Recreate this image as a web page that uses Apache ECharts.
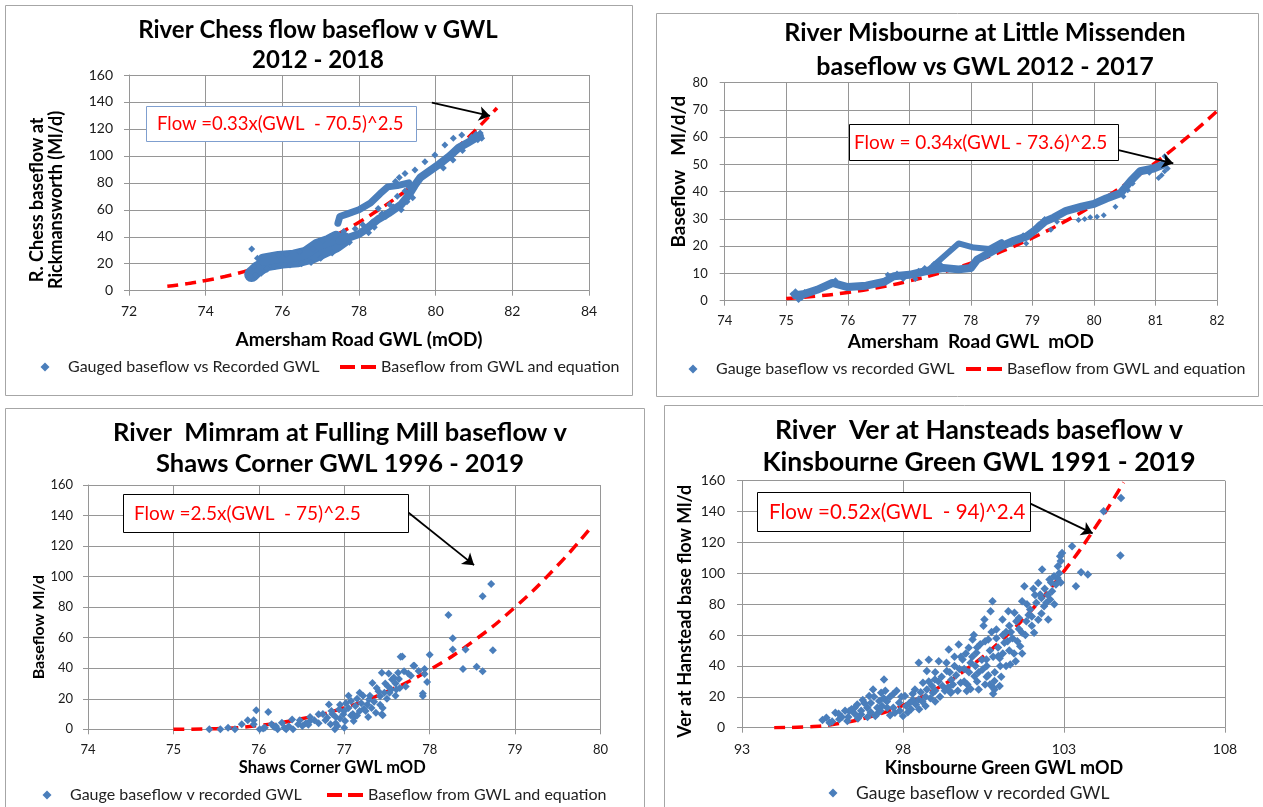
<!DOCTYPE html>
<html><head><meta charset="utf-8">
<script src="https://cdn.jsdelivr.net/npm/echarts/dist/echarts.min.js"></script>
<style>html,body{margin:0;padding:0;background:#fff}#c{width:1263px;height:807px}</style>
</head><body><div id="c"></div>
<script>
// ---------- DATA ----------
// Panel 1: River Chess
const chessName = 'Gauged baseflow vs Recorded GWL';
const chessXRange = [72, 84, 2];
const chessYRange = [0, 160, 20];
const chessPoints = [[75.2,31],[75.35,24],[75.15,10],[75.3,11],[75.25,18],[75.45,13],[75.6,16],[75.8,18],[76.2,19],
  [76.5,20],[76.75,21],[77.0,24],[77.3,28],[76.1,27],[76.45,29],[76.8,31],[77.05,37],[77.25,40],[75.9,26],
  [77.6,44],[77.9,46],[78.1,49],[78.35,51],[78.6,57],[78.4,47],[77.75,36],[78.25,43],
  [78.9,62],[79.0,70],[79.2,74],[79.25,66],[79.1,60],[78.7,55],[79.3,77],[78.95,81],[79.05,84],[79.2,87],
  [79.46,89.5],[79.72,95.7],[79.98,100.7],[80.24,108],[80.46,113],[80.68,115.5],[80.94,114],[81.1,112],
  [81.16,117],[81.2,113],[81.05,116],[80.2,91],[80.45,97],[80.7,104],[79.4,69],[79.5,80],[78.8,64],[78.5,61]];
const chessBlob = [[75.2,12],[75.35,16],[75.6,20],[76.0,22],[76.4,23],[76.8,26],[77.1,30],[77.4,34],[77.6,38]];
const chessBlobUpper = [[75.5,23],[75.9,25],[76.3,26],[76.6,28],[76.9,34],[77.2,37],[77.4,40]];
const chessLowBand = [[77.5,37],[77.8,40],[78.0,42],[78.2,46],[78.5,53],[78.8,58],[79.1,64],[79.3,71],[79.45,78],
  [79.6,84],[79.85,89],[80.1,94],[80.37,100],[80.6,106],[80.85,110],[81.15,115]];
const chessUpBand = [[77.45,50],[77.5,55],[77.7,57],[78.0,60],[78.3,65],[78.55,72],[78.75,77],[79.0,78],[79.3,80]];
const chessCurve = [[73,3.26],[73.5,5.14],[74,7.56],[74.5,10.56],[75,14.18],[75.5,18.45],[76,23.41],[76.5,29.1],
  [77,35.55],[77.5,42.78],[78,50.83],[78.5,59.74],[79,69.5],[79.5,80.19],[80,91.8],[80.5,104.4],[81,117.9],[81.6,135.5]];

// Panel 2: River Misbourne
const misName = 'Gauge baseflow vs recorded GWL';
const misXRange = [74, 82, 1];
const misYRange = [0, 80, 10];
const misBand = [[75.15,2],[75.3,2.5],[75.5,4],[75.75,6.5],[76.0,5],[76.3,5.5],[76.6,7],[76.75,9],[77.0,9.5],
  [77.3,11],[77.55,12],[77.8,11.5],[78.0,12],[78.1,15],[78.3,17.5],[78.5,20],[78.7,22],[78.9,23.5],[79.05,26],
  [79.2,29],[79.35,30.5],[79.55,33],[79.8,34.5],[80.0,35.5],[80.2,37.5],[80.43,39.4],[80.6,44],[80.75,47.5],
  [80.97,48.5],[81.13,50]];
const misLoop = [[77.35,12],[77.6,17],[77.8,21],[78.05,19.5],[78.3,19],[78.5,21.5]];
const misPoints = [[75.1,2.5],[75.2,0.3],[75.25,1],[75.3,3.2],[75.15,3.5],[75.8,7.5],[76.65,9.5],[77.4,13.5],
  [76.8,10],[77.1,8],[77.25,12],[77.5,13.5],[77.15,11],[76.9,8],
  [78.9,21],[78.85,24],[79.1,28],[79.2,30],[79.3,26],[79.75,29.6],[79.85,30],[79.94,30.6],[80.05,30.8],
  [80.16,31.4],[80.35,34.5],[80.48,38.2],[80.55,40.5],[80.63,43],[81.15,53],[81.1,46],[81.05,45],[81.15,47.5],
  [81.2,48.5],[80.9,47],[78.6,21],[78.4,19],[79.4,29],[80.3,38],[80.7,46]];
const misCurve = [[75,0.79],[75.5,1.69],[76,3.03],[76.5,4.87],[77,7.25],[77.5,10.21],[78,13.81],[78.5,18.07],
  [79,23.04],[79.5,28.75],[80,35.23],[80.5,42.52],[81,50.65],[81.5,59.64],[82,69.53]];

// Panel 3: River Mimram
const mimName = 'Gauge baseflow v recorded GWL';
const mimXRange = [74, 80, 1];
const mimYRange = [0, 160, 20];
const mimPoints = [[75.42,0],[75.55,0],[75.64,1],[75.72,0],[75.8,3.3],[75.87,6],[75.94,6],[75.97,12.4],[76.11,11.3],
  [75.94,3.3],[76.01,0],[76.07,1],[76.15,3.3],[76.22,0],[76.27,4.3],[76.32,0],[76.39,6.5],[76.46,3.3],[76.51,2.2],
  [76.6,5.4],[76.7,9.8],[76.8,7.6],[76.84,3.3],[76.89,0],[76.92,2.2],[76.82,16.3],[76.94,13],[76.99,9.8],[77.01,5.4],
  [77.08,18.5],[77.11,5.4],[77.13,15.2],[77.18,23.9],[77.23,13.5],[77.27,16.3],[77.29,19.5],[77.33,30.4],[77.37,10.9],
  [77.42,21.7],[77.44,9.8],[77.47,23.9],[77.51,28.2],[77.56,32.6],[77.61,26],[77.63,37],[77.68,47.7],[77.7,38],
  [77.82,41.6],[77.94,39.5],[77.92,23.4],[77.97,31],[78.0,48.8],
  [78.72,95.1],[78.62,87.2],[78.22,74.8],[78.27,59.7],[78.27,52.3],[78.42,52.3],[78.74,51.7],[78.39,39.5],[78.55,41],
  [78.62,38],[77.81,41.6],[77.87,38.2],[77.75,36.6],[77.66,47.5],[77.44,37],[77.52,36.6],[77.58,34],[77.45,9.2],
  [77.94,36.2],[77.92,21.8],
  [76.2,2],[76.3,1],[76.4,0],[76.55,4],[76.6,8],[76.65,6],[76.75,10],[76.85,12],[76.9,8],[76.95,16],[77.0,12],
  [77.05,14],[77.1,10],[77.15,20],[77.2,17],[77.25,12],[77.3,22],[77.35,18],[77.4,25],[77.45,14],[77.5,20],
  [77.55,26],[77.6,22],[77.65,27],[77.05,22],[76.95,7],[77.02,17],[77.12,8],[77.22,22],[77.32,14],[77.42,16],
  [77.48,30],[76.86,10],[76.48,6],[76.35,2],[76.05,0.5],[76.18,1.5],[76.58,3],[76.7,4],[76.78,6],[77.53,24],
  [77.6,30],[77.64,33],[77.72,28],[77.78,35],[76.9,4],[77.0,1],[77.15,9],[77.28,8],[77.38,27],[77.18,12],[77.08,9]];
const mimCurve = [[75,0],[75.5,0.44],[76,2.5],[76.5,6.89],[77,14.14],[77.5,24.7],[78,38.97],[78.5,57.3],[79,80],
  [79.5,107.4],[79.9,132.9]];

// Panel 4: River Ver
const verName = 'Gauge baseflow v recorded GWL';
const verXRange = [93, 108, 5];
const verYRange = [0, 160, 20];
const verPoints = [[95.62,6.5],[95.9,9.7],[95.72,3.2],[96.02,5.4],[96.27,4.3],[96.33,10.8],[96.58,15.1],[96.7,8.6],
  [96.89,12.9],[96.95,20.5],[97.07,24.8],[97.14,7.5],[97.26,17.3],[97.41,31.3],[97.32,22.6],[97.51,12.9],[97.69,21.6],
  [97.75,9.7],[97.88,16.2],[98.0,7.5],[98.06,20.5],[98.25,11.9],[98.37,24.8],[98.49,42],[98.49,18.3],[98.62,29.1],
  [98.74,36.7],[98.74,24.8],[98.93,22.6],[98.99,31.3],[99.11,43.1],[99.23,27],[99.36,36.7],[99.42,50.7],[99.48,22.6],
  [99.6,39.9],[99.73,53.9],[99.79,29.1],[99.85,44.2],[99.98,23.7],[100.04,51.8],[100.16,57.1],[100.22,33.4],
  [100.28,48.5],[100.35,24.8],[100.47,37.7],[100.53,70.1],[100.59,44.2],[100.65,57.1],[100.72,75.5],[100.78,81.9],
  [100.84,30.2],[100.84,24.8],[100.9,63.6],[100.96,46.4],[101.02,39.9],[101.09,70.1],[101.15,55],[101.27,75.5],
  [101.33,41],[101.46,74.4],[101.52,69],[101.64,52.8],[101.7,81.9],[101.7,61.5],[101.77,91.6],[101.83,69],
  [101.95,76.5],[102.07,61.5],[102.14,80.9],[102.2,93.8],[102.26,86.3],[102.32,102.4],[102.38,78.7],[102.51,70.1],
  [102.57,83],[102.63,88.4],[102.69,98.1],[102.75,92.7],[102.81,104.6],[102.88,111],[102.94,113.2],[103.25,117.5],
  [103.37,91.6],[103.53,100.7],[103.74,99.2],[104.23,140.2],[104.77,148.8],[104.75,111.5],
  [96.1,7],[96.4,12],[96.6,6],[96.8,16],[97.0,10],[97.2,13],[97.4,19],[97.6,8],[97.8,24],[98.1,14],[98.3,18],
  [98.5,12],[98.7,20],[98.9,27],[99.0,17],[99.2,33],[99.4,26],[99.5,31],[99.7,24],[99.9,38],[100.0,28],[100.1,42],
  [100.3,30],[100.4,54],[100.6,33],[100.7,50],[100.8,26],[100.9,58],[101.0,27],[101.1,48],[101.2,62],[101.3,50],
  [101.4,58],[101.6,64],[101.8,60],[101.9,73],[102.0,66],[102.1,86],[102.3,74],[102.45,81],[102.6,94],[102.8,97],
  [102.9,108],[100.8,22],[100.7,28],[99.5,23],[99.0,36],[98.8,44],[99.8,46],[100.2,60],[100.5,66],[101.3,66],
  [101.0,45],[100.6,40],[101.5,43],[101.7,48],
  [95.5,5],[95.8,4],[96.0,9],[96.2,11],[96.3,7],[96.5,9],[96.5,13],[96.7,11],[96.75,18],[96.9,7],[97.0,16],[97.1,20],
  [97.2,9],[97.3,11],[97.35,14],[97.45,24],[97.5,17],[97.6,20],[97.7,13],[97.9,11],[97.95,20],
  [98.15,10],[98.2,16],[98.3,22],[98.4,15],[98.55,23],[98.6,17],[98.7,14],[98.8,30],[98.85,19],[99.0,24],[99.1,30],
  [99.15,20],[99.3,24],[99.35,42],[99.45,36],[99.55,28],[99.6,46],[99.65,34],[99.75,38],[99.9,30],[99.95,48],
  [100.05,36],[100.1,25],[100.15,46],[100.25,40],[100.3,52],[100.35,36],[100.45,44],[100.55,56],[100.55,28],
  [100.65,34],[100.75,62],[100.8,46],[100.85,36],[100.95,52],[101.05,33],[101.1,60],[101.2,40],[101.25,56],
  [101.35,62],[101.45,48],[101.55,56],[101.6,71],[101.85,80],[102.0,72],[102.05,90],[102.2,70],[102.3,84],
  [102.4,90],[102.5,86],[102.55,96],[102.7,80],[102.85,100],[102.9,94]];
const verCurve = [[94,0],[95,0.52],[96,2.74],[97,7.26],[98,14.49],[99,24.75],[100,38.33],[101,55.5],[102,76.4],
  [103,101.4],[104,130.6],[104.85,158.9]];

const eqName = 'Baseflow from GWL and equation';

// ---------- STYLE / LAYOUT ----------
const FONT = "Lato, 'Open Sans', sans-serif";
const BLUE = '#4a7ebb';
const RED = '#ff0000';
const GRIDC = '#969696';

const chart = echarts.init(document.getElementById('c'), null, {renderer: 'canvas'});

function xAx(idx, r, fs, margin, name, nameGap, nameSize, pad) {
  return {gridIndex: idx, type: 'value', min: r[0], max: r[1], interval: r[2],
    axisLine: {show: true, onZero: false, lineStyle: {color: GRIDC, width: 1}},
    axisTick: {show: true, length: 5, lineStyle: {color: GRIDC}},
    splitLine: {show: true, lineStyle: {color: GRIDC, width: 1}},
    axisLabel: {fontFamily: FONT, fontSize: fs, color: '#1a1a1a', margin: margin},
    name: name, nameLocation: 'middle', nameGap: nameGap, nameMoveOverlap: false,
    nameTextStyle: {fontFamily: FONT, fontWeight: 'bold', fontSize: nameSize, color: '#000', lineHeight: nameSize, padding: pad || 0}};
}
function yAx(idx, r, fs, margin, name, nameGap, nameSize, pad, lh) {
  return {gridIndex: idx, type: 'value', min: r[0], max: r[1], interval: r[2],
    axisLine: {show: true, onZero: false, lineStyle: {color: GRIDC, width: 1}},
    axisTick: {show: true, length: 5, lineStyle: {color: GRIDC}},
    splitLine: {show: true, lineStyle: {color: GRIDC, width: 1}},
    axisLabel: {fontFamily: FONT, fontSize: fs, color: '#1a1a1a', margin: margin},
    name: name, nameLocation: 'middle', nameGap: nameGap, nameRotate: 90, nameMoveOverlap: false,
    nameTextStyle: {fontFamily: FONT, fontWeight: 'bold', fontSize: nameSize, color: '#000', lineHeight: lh || nameSize, padding: pad || 0}};
}
function scat(name, idx, data, size) {
  return {type: 'scatter', name: name, xAxisIndex: idx, yAxisIndex: idx, data: data, symbol: 'diamond',
    symbolSize: size, itemStyle: {color: BLUE, opacity: 1}, z: 4, silent: true};
}
function band(name, idx, data, w) {
  return {type: 'line', name: name, xAxisIndex: idx, yAxisIndex: idx, data: data, symbol: 'none', showSymbol: false,
    lineStyle: {color: BLUE, width: w, cap: 'round', join: 'round'}, itemStyle: {color: BLUE}, z: 3, silent: true};
}
function curve(name, idx, data, arrow) {
  return {type: 'line', name: name, xAxisIndex: idx, yAxisIndex: idx, data: data, smooth: true, symbol: 'none',
    showSymbol: false, lineStyle: {color: RED, width: 3.5, type: [11, 7]}, itemStyle: {color: RED}, z: 2, silent: true,
    markLine: {silent: true, symbol: ['none', 'arrow'], symbolSize: 11, animation: false,
      lineStyle: {color: '#000', type: 'solid', width: 1.8}, label: {show: false}, emphasis: {disabled: true},
      data: [[{coord: arrow[0]}, {coord: arrow[1]}]]}};
}
const dashIcon = 'path://M0 0H15V4H0Z M21 0H36V4H21Z';
const diamondIcon = 'path://M5 0L10 5L5 10L0 5Z';
function leg(left, top, name, icon, fs) {
  return {left: left, top: top, padding: 0, itemWidth: 36, itemHeight: 9, itemGap: 0, selectedMode: false,
    symbolKeepAspect: true,
    data: [{name: name, icon: icon}], textStyle: {fontFamily: FONT, fontSize: fs, color: '#222'}};
}
function titleText(x, y, text, lh, fs) {
  return {type: 'text', x: x, y: y, z: 10, silent: true,
    style: {text: text, fill: '#000', font: 'bold ' + fs + 'px ' + FONT, align: 'center', verticalAlign: 'top', lineHeight: lh}};
}
function box(x, y, w, h, stroke, tx, text, fs) {
  return {type: 'group', z: 20, silent: true, children: [
    {type: 'rect', z: 20, shape: {x: x, y: y, width: w, height: h}, style: {fill: '#fff', stroke: stroke, lineWidth: 1}},
    {type: 'text', z: 21, x: tx, y: y + h / 2, style: {text: text, fill: RED, font: fs + 'px ' + FONT, align: 'left', verticalAlign: 'middle'}}
  ]};
}
function frame(x, y, w, h) {
  return {type: 'rect', z: 0, silent: true, shape: {x: x, y: y, width: w, height: h},
    style: {fill: 'none', stroke: '#a6a6a6', lineWidth: 1}};
}

const option = {
  animation: false,
  backgroundColor: '#fff',
  grid: [
    {left: 129, top: 75, width: 460, height: 215.7, containLabel: false, outerBoundsMode: 'none'},
    {left: 724.7, top: 82.7, width: 492.3, height: 218, containLabel: false, outerBoundsMode: 'none'},
    {left: 88, top: 485, width: 512.5, height: 244.3, containLabel: false, outerBoundsMode: 'none'},
    {left: 742, top: 480.7, width: 483, height: 247, containLabel: false, outerBoundsMode: 'none'}
  ],
  xAxis: [
    xAx(0, chessXRange, 14, 14, 'Amersham Road GWL (mOD)', 40, 19),
    xAx(1, misXRange, 13, 14, 'Amersham  Road GWL  mOD', 32, 19),
    xAx(2, mimXRange, 13, 14, 'Shaws Corner GWL mOD', 30, 16.5, [0, 24, 0, 0]),
    xAx(3, verXRange, 14, 15, 'Kinsbourne Green GWL mOD', 31, 18, [0, 0, 0, 41])
  ],
  yAxis: [
    yAx(0, chessYRange, 14, 16, 'R. Chess baseflow at\nRickmansworth (Ml/d)', 63, 18, [0, 34, 0, 0], 19),
    yAx(1, misYRange, 13, 17, 'Baseflow   Ml/d/d', 36, 19, [0, 0, 0, 40]),
    yAx(2, mimYRange, 13, 15, 'Baseflow Ml/d', 41, 16, [0, 40, 0, 0]),
    yAx(3, verYRange, 14, 17, 'Ver at Hanstead base flow Ml/d', 48, 18, [0, 14, 0, 0])
  ],
  legend: [
    leg(40.5, 359, chessName, diamondIcon, 16),
    leg(340, 359, eqName, dashIcon, 16),
    leg(688.5, 361, misName, diamondIcon, 16),
    leg(966, 361, eqName, dashIcon, 16),
    leg(42.5, 787, mimName, diamondIcon, 16),
    leg(327, 787, eqName, dashIcon, 16),
    leg(828.5, 784, verName, diamondIcon, 17.5)
  ],
  series: [
    scat(chessName, 0, chessPoints, 7),
    band(chessName, 0, chessBlob, 15),
    band(chessName, 0, chessBlobUpper, 12),
    band(chessName, 0, chessLowBand, 8),
    band(chessName, 0, chessUpBand, 7),
    curve(eqName, 0, chessCurve, [[79.9, 139.5], [81.42, 129.6]]),

    scat(misName, 1, misPoints, 6),
    band(misName, 1, misBand, 8),
    band(misName, 1, misLoop, 6),
    curve(eqName, 1, misCurve, [[80.4, 55.3], [81.29, 50.4]]),

    scat(mimName, 2, mimPoints, 8),
    curve(eqName, 2, mimCurve, [[77.75, 142], [78.52, 107.5]]),

    scat(verName, 3, verPoints, 8.5),
    curve('Ver equation', 3, verCurve, [[101.94, 145.3], [103.89, 125.9]])
  ],
  graphic: [
    frame(5.5, 5.5, 627, 390),
    frame(656.5, 13.5, 602, 383),
    frame(5.5, 408.5, 639, 420),
    frame(664.5, 405.5, 620, 420),
    titleText(318, 15, 'River Chess flow baseflow v GWL\n2012 - 2018', 30, 24),
    titleText(985, 16, 'River Misbourne at Little Missenden\nbaseflow vs GWL 2012 - 2017', 34, 25),
    titleText(340, 417, 'River  Mimram at Fulling Mill baseflow v\nShaws Corner GWL 1996 - 2019', 31, 25.5),
    titleText(979, 414, 'River  Ver at Hansteads baseflow v\nKinsbourne Green GWL 1991 - 2019', 32, 26.5),
    box(146.5, 106.5, 270, 35, '#7f9fcf', 157, 'Flow =0.33x(GWL  - 70.5)^2.5', 18.5),
    box(849.5, 124.5, 269, 36, '#000', 854, 'Flow = 0.34x(GWL - 73.6)^2.5', 19),
    box(123.5, 494.5, 285, 38, '#000', 134, 'Flow =2.5x(GWL  - 75)^2.5', 19),
    box(757.5, 492.5, 273, 39, '#000', 769, 'Flow =0.52x(GWL  - 94)^2.4', 20.5)
  ]
};
chart.setOption(option);
</script></body></html>
